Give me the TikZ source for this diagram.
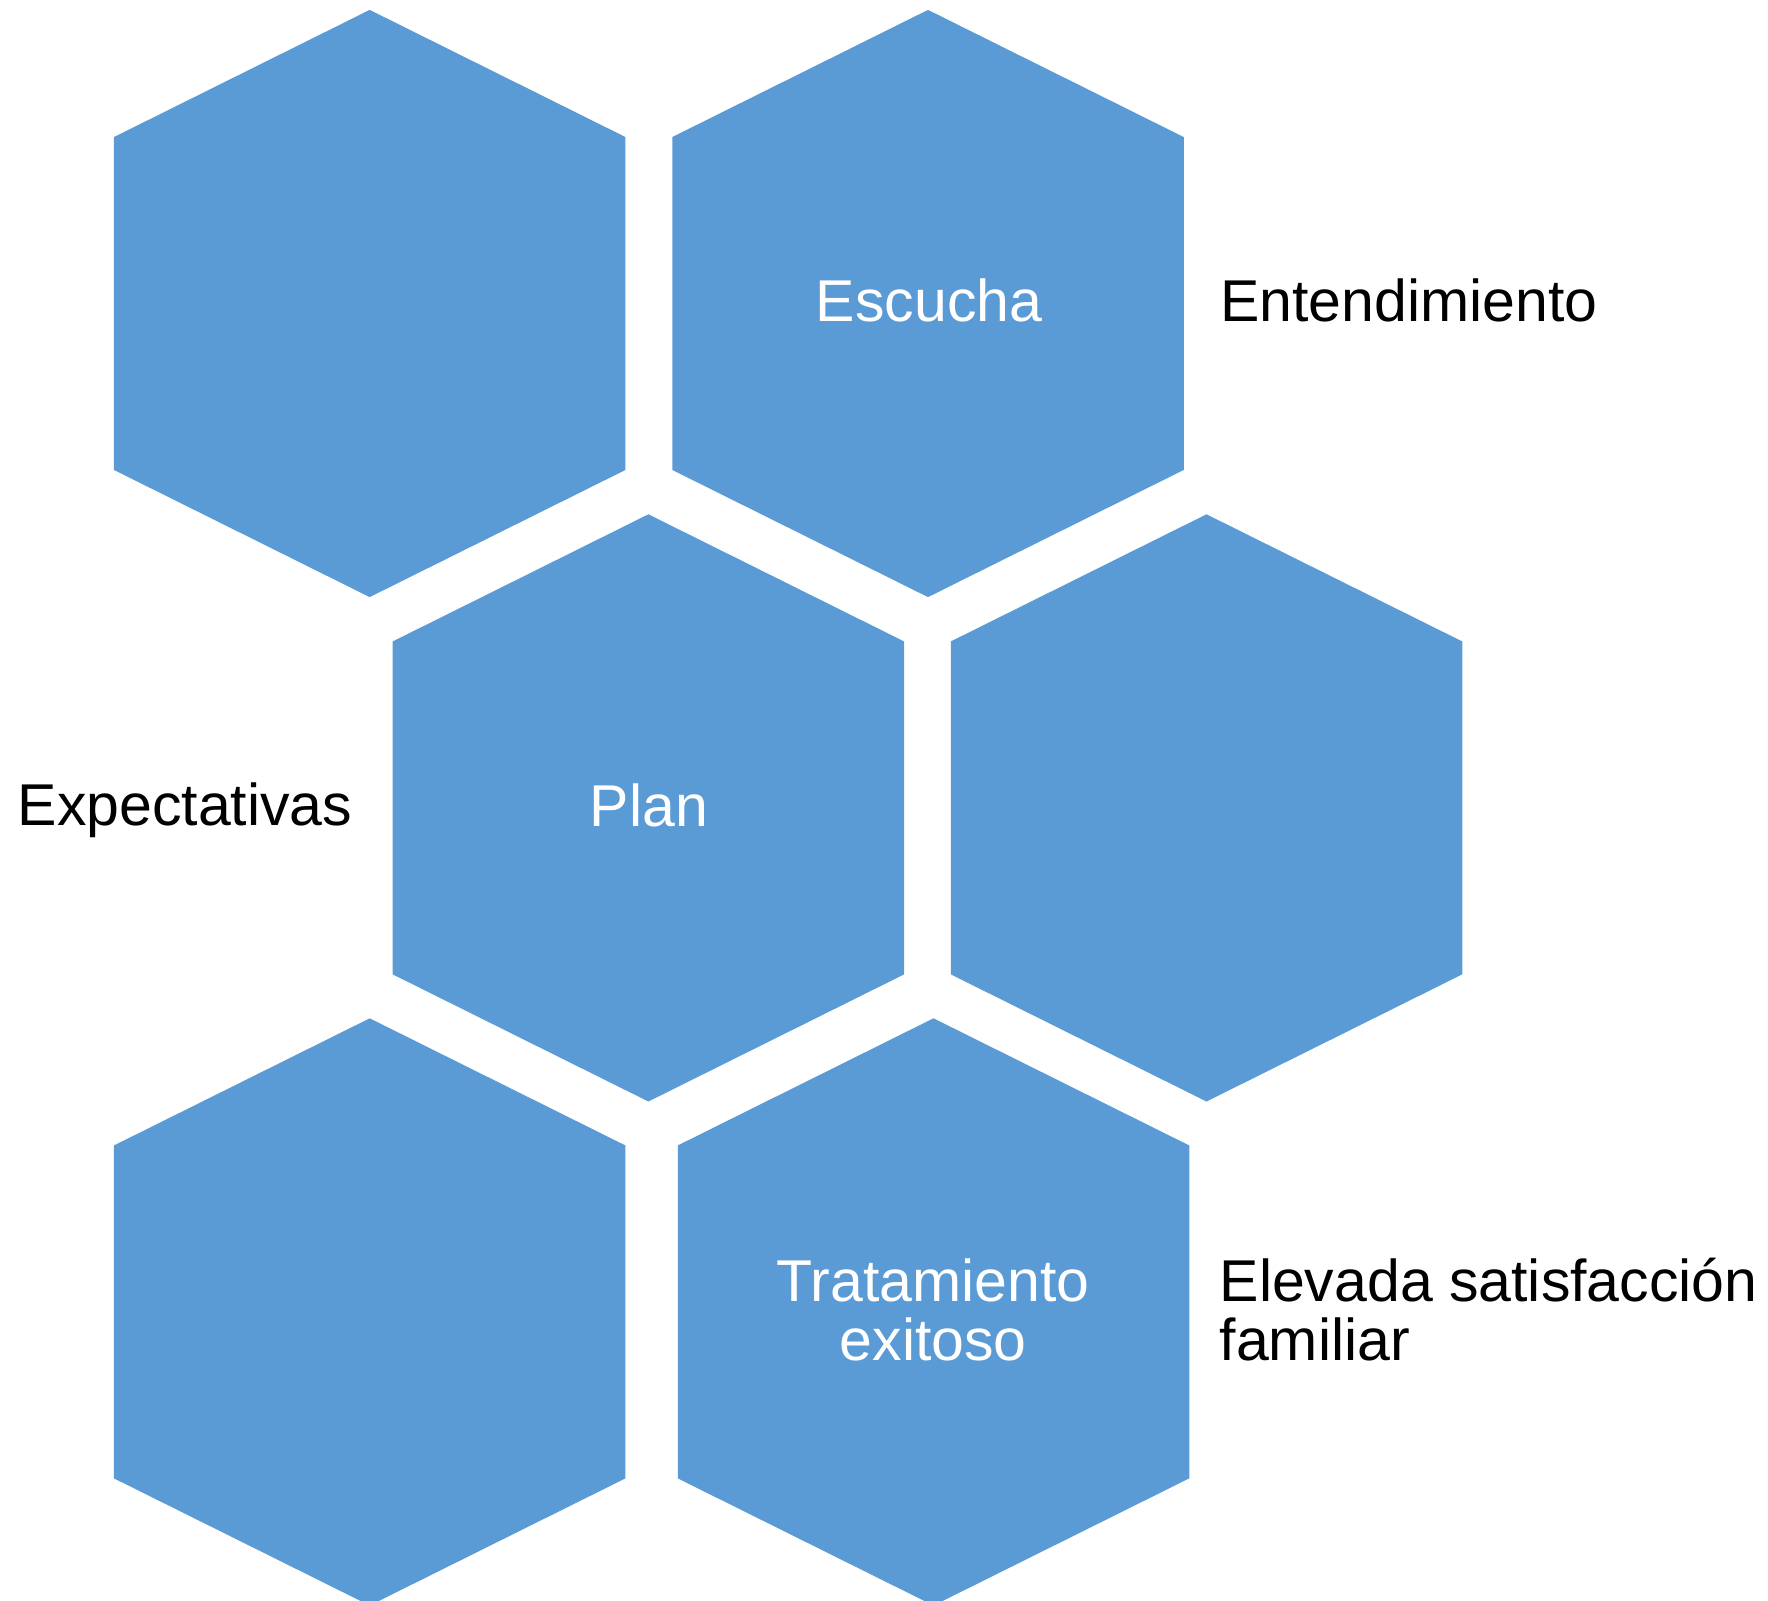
\documentclass[tikz,border=0pt]{standalone}
\usepackage{fontspec}
\setmainfont{Liberation Sans}
\definecolor{hexblue}{HTML}{5B9BD5}
\tikzset{
  hexcell/.pic={
    \fill[hexblue] (0,-293.6) -- (255.75,-166.45) -- (255.75,166.45)
      -- (0,293.6) -- (-255.75,166.45) -- (-255.75,-166.45) -- cycle;
  },
  inlabel/.style={text=white, inner sep=0pt, anchor=base, align=center},
  outlabel/.style={text=black, inner sep=0pt, anchor=base west, align=left},
}
\begin{document}
\begin{tikzpicture}
        [x=1pt,y=-1pt,font=\fontsize{59}{59.7}\selectfont]
        \useasboundingbox (0,0) rectangle (1768,1600);
        \clip (0,0) rectangle (1768,1600);

        % centres of the cells
        \coordinate (c1) at (369.7,303.5);
        \coordinate (c2) at (928,303.5);
        \coordinate (c3) at (648.4,807.9);
        \coordinate (c4) at (1206.5,807.9);
        \coordinate (c5) at (369.7,1311.9);
        \coordinate (c6) at (933.5,1311.9);

        \foreach \c in {c1,c2,c3,c4,c5,c6}
        {\pic at (\c) {hexcell};}

        \node[inlabel] (escucha) at (929,321.7) {Escucha};
        \node[inlabel] (plan) at (648.8,826.7) {Plan};
        \node[inlabel] (tratamiento) at (933.2,1360.7) {Tratamiento\\exitoso};

        \node[outlabel] (entendimiento) at (1220,321.7) {Entendimiento};
        \node[outlabel] (expectativas) at (17.6,825.7) {Expectativas};
        \node[outlabel] (satisfaccion) at (1219.5,1360.7) {Elevada satisfacción\\familiar};
      \end{tikzpicture}
\end{document}
